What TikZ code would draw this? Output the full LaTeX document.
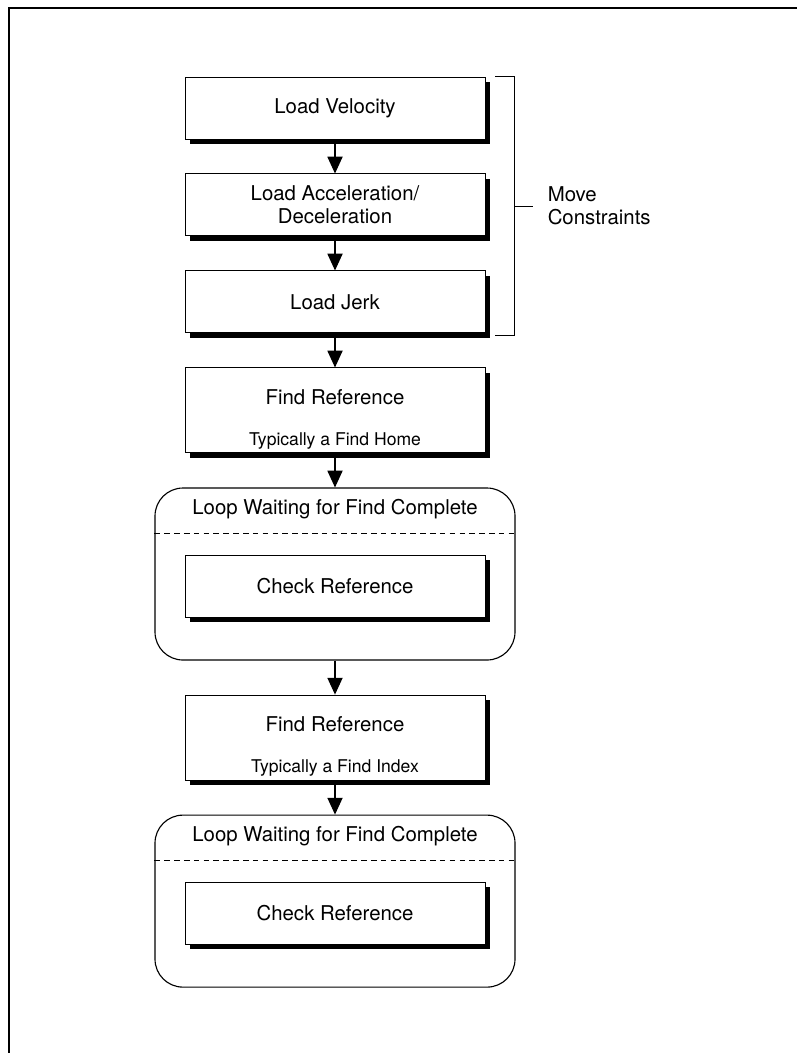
\documentclass[tikz,border=0pt]{standalone}
\usepackage{fontspec}
\setmainfont{TeX Gyre Heros}
\usepackage{tikz}
\usetikzlibrary{arrows.meta,positioning,calc,shadows}

\begin{document}
\begin{tikzpicture}[node distance=0.85cm,
  >={Triangle[width=0.38cm,length=0.42cm]},
  every node/.style={font=\fontsize{14.5}{16.5}\selectfont},
  stepbox/.style={draw,line width=0.7pt,fill=white,minimum width=7.5cm,minimum height=1.55cm,align=center,
    drop shadow={opacity=1,fill=black,shadow xshift=0.12cm,shadow yshift=-0.12cm}},
  findbox/.style={stepbox,minimum height=2.125cm},
  loopbox/.style={draw,line width=0.8pt,rounded corners=0.7cm,minimum width=9cm,minimum height=4.3cm},
  subtxt/.style={font=\fontsize{12.5}{14}\selectfont,inner sep=0pt},
  flow/.style={->,line width=0.8pt}]
\useasboundingbox (0,0) rectangle (19.925,-26.325);
\draw[line width=1.8pt] (0.225,-26.4) -- (0.225,-0.2) -- (20,-0.2);

\node[stepbox] (vel) at (8.375,-2.7) {Load Velocity};
\node[stepbox,below=of vel] (acc) {Load Acceleration/\\Deceleration};
\node[stepbox,below=of acc] (jerk) {Load Jerk};
\node[findbox,below=of jerk] (find1) {};
\node at ($(find1.north)+(0,-0.75)$) (find1t) {Find Reference};
\node[subtxt] at ($(find1.south)+(0,0.32)$) (find1s) {Typically a Find Home};

\node[loopbox,below=of find1] (loop1) {};
\node at ($(loop1.north)+(0,-0.55)$) (loop1t) {Loop Waiting for Find Complete};
\coordinate (dash1) at ($(loop1.north)+(0,-1.15)$);
\draw[dashed,line width=0.6pt,dash pattern=on 4pt off 3pt] (loop1.west |- dash1) -- (loop1.east |- dash1);
\node[stepbox,anchor=north] at ($(loop1.north)+(0,-1.68)$) (check1) {Check Reference};

\node[findbox,below=of loop1] (find2) {};
\node at ($(find2.north)+(0,-0.75)$) (find2t) {Find Reference};
\node[subtxt] at ($(find2.south)+(0,0.32)$) (find2s) {Typically a Find Index};

\node[loopbox,below=of find2] (loop2) {};
\node at ($(loop2.north)+(0,-0.55)$) (loop2t) {Loop Waiting for Find Complete};
\coordinate (dash2) at ($(loop2.north)+(0,-1.15)$);
\draw[dashed,line width=0.6pt,dash pattern=on 4pt off 3pt] (loop2.west |- dash2) -- (loop2.east |- dash2);
\node[stepbox,anchor=north] at ($(loop2.north)+(0,-1.68)$) (check2) {Check Reference};

\draw[flow] (vel) -- (acc);
\draw[flow] (acc) -- (jerk);
\draw[flow] (jerk) -- (find1);
\draw[flow] (find1) -- (loop1);
\draw[flow] (loop1) -- (find2);
\draw[flow] (find2) -- (loop2);

\coordinate (brtop) at ($(vel.north east)+(0.25,0)$);
\coordinate (brbot) at ($(jerk.south east)+(0.25,-0.05)$);
\draw[line width=0.6pt] (brtop) -- ++(0.475,0) coordinate (brtr) -- (brtr |- brbot) coordinate (brbr) -- (brbot);
\draw[line width=0.6pt] ($(brtr)!0.5!(brbr)$) coordinate (brmid) -- ++(0.475,0) coordinate (brtip);
\node[anchor=west,align=left,inner sep=0pt] at ($(brtip)+(0.35,0)$) (move) {Move\\Constraints};
\end{tikzpicture}
\end{document}
